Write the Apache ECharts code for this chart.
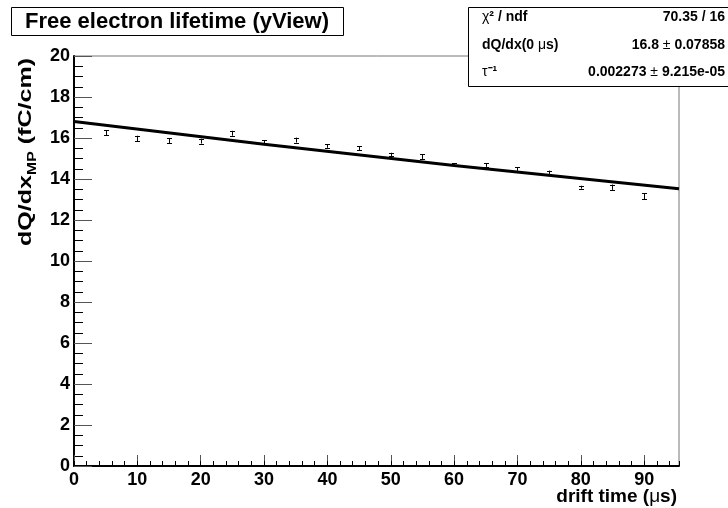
<!DOCTYPE html>
<html>
<head>
<meta charset="utf-8">
<script src="https://cdn.jsdelivr.net/npm/echarts@6/dist/echarts.min.js"></script>
<style>html,body{margin:0;padding:0;background:#fff;}#c{width:728px;height:508px;}</style>
</head>
<body>
<div id="c"></div>
<script>
// ---- data ----
const driftTimes = [5, 10, 15, 20, 25, 30, 35, 40, 45, 50, 55, 60, 65, 70, 75, 80, 85, 90];
const dqdxValues = [16.26, 15.98, 15.87, 15.85, 16.23, 15.82, 15.90, 15.61, 15.50, 15.20, 15.09, 14.72, 14.68, 14.49, 14.33, 13.60, 13.60, 13.16];
const dqdxErrors = [0.12, 0.13, 0.13, 0.12, 0.12, 0.07, 0.12, 0.09, 0.10, 0.08, 0.11, 0.06, 0.09, 0.09, 0.08, 0.07, 0.13, 0.15];
const fitTimes = [0, 30, 60, 95.5];
const fitValues = [16.80, 15.69, 14.66, 13.53];
const xTicks = [0, 10, 20, 30, 40, 50, 60, 70, 80, 90];
const yTicks = [0, 2, 4, 6, 8, 10, 12, 14, 16, 18, 20];
const titleText = 'Free electron lifetime (yView)';
const statRows = [
  ['{n|χ}{b|² / ndf}', '{b|70.35 / 16}'],
  ['{b|dQ/dx(0 }{n|μ}{b|s)}', '{b|16.8 }{n|±}{b| 0.07858}'],
  ['{n|τ}{b|⁻¹}', '{b|0.002273 }{n|±}{b| 9.215e-05}']
];

const AX_FONT = 'Liberation Sans';
const ST_FONT = 'Liberation Sans';
const mctx = document.createElement('canvas').getContext('2d');
function tw(text, size, weight, family) {
  mctx.font = (weight || 'bold') + ' ' + size + 'px "' + family + '"';
  return mctx.measureText(text).width;
}

const chart = echarts.init(document.getElementById('c'), null, {renderer: 'canvas'});

const fitData = fitTimes.map((t, i) => [t, fitValues[i]]);
const errData = driftTimes.map((t, i) => [t, dqdxValues[i], dqdxErrors[i]]);

// y-axis title pieces
const yt1 = 'dQ/dx', yt2 = 'MP', yt3 = ' (fC/cm)';
const yfs = 19, ysfs = 12;
const w1 = tw(yt1, yfs, 'bold', AX_FONT), w2 = tw(yt2, ysfs, 'bold', AX_FONT), w3 = tw(yt3, yfs, 'bold', AX_FONT);
const yTitleLen = w1 + w2 + w3;
const yTop = 58, yBottom = 246;
const yScale = (yBottom - yTop) / yTitleLen;

// x-axis title pieces
const xfs = 19;
const xa = 'drift time (', xb = 'μ', xc = 's)';
const xwa = tw(xa, xfs, 'bold', AX_FONT), xwb = tw(xb, xfs, 'normal', AX_FONT), xwc = tw(xc, xfs, 'bold', AX_FONT);
const xRight = 677, xY = 497;
const xStart = xRight - (xwa + xwb + xwc);

const richStat = {
  b: {fontFamily: ST_FONT, fontWeight: 'bold', fontSize: 14, fill: '#000', color: '#000'},
  n: {fontFamily: ST_FONT, fontWeight: 'normal', fontSize: 14, fill: '#000', color: '#000'}
};
const statY = [17, 45, 72];
const statGraphics = [];
statRows.forEach((r, i) => {
  statGraphics.push({type: 'text', x: 482, y: statY[i], z: 11,
    style: {text: r[0], rich: richStat, align: 'left', verticalAlign: 'middle', fill: '#000'}});
  statGraphics.push({type: 'text', x: 725, y: statY[i], z: 11,
    style: {text: r[1], rich: richStat, align: 'right', verticalAlign: 'middle', fill: '#000'}});
});

const option = {
  animation: false,
  backgroundColor: '#fff',
  grid: {left: 74, right: 49, top: 56, bottom: 42, show: true, borderColor: '#777', borderWidth: 1, backgroundColor: 'transparent'},
  xAxis: [{
    type: 'value', min: 0, max: 95.5, interval: 10, position: 'bottom',
    axisLine: {show: true, onZero: false, lineStyle: {color: '#000', width: 2}},
    axisTick: {show: true, inside: true, length: 11, lineStyle: {color: '#555', width: 1}},
    axisLabel: {show: true, margin: 5, fontFamily: AX_FONT, fontWeight: 'bold', fontSize: 18, color: '#000',
      showMaxLabel: false, formatter: v => (xTicks.indexOf(v) >= 0 ? String(v) : '')},
    splitLine: {show: false}
  }, {
    type: 'value', min: 0, max: 95.5, interval: 2, position: 'bottom',
    axisLine: {show: false, onZero: false},
    axisTick: {show: true, inside: true, length: 5, lineStyle: {color: '#000', width: 1}},
    axisLabel: {show: false},
    splitLine: {show: false}
  }],
  yAxis: {
    type: 'value', min: 0, max: 20, interval: 2,
    axisLine: {show: true, onZero: false, lineStyle: {color: '#000', width: 2}},
    axisTick: {show: true, inside: true, length: 18, lineStyle: {color: '#555', width: 1}},
    minorTick: {show: true, splitNumber: 4, length: 9, lineStyle: {color: '#000', width: 1}},
    axisLabel: {show: true, margin: 4, fontFamily: AX_FONT, fontWeight: 'bold', fontSize: 18, color: '#000',
      formatter: v => (yTicks.indexOf(v) >= 0 ? String(v) : '')},
    splitLine: {show: false}, minorSplitLine: {show: false}
  },
  series: [{
    type: 'line', xAxisIndex: 0, data: fitData, showSymbol: false, symbol: 'none',
    lineStyle: {color: '#000', width: 3}, z: 3, silent: true
  }, {
    type: 'custom', xAxisIndex: 0, data: errData, z: 4, silent: true,
    renderItem: function (params, api) {
      const x = api.value(0), y = api.value(1), e = api.value(2);
      const lo = api.coord([x, y - e]), hi = api.coord([x, y + e]);
      const cx = Math.round(lo[0]) + 0.5, hw = 2.5;
      const st = {stroke: '#000', lineWidth: 1};
      return {type: 'group', children: [
        {type: 'line', shape: {x1: cx, y1: lo[1], x2: cx, y2: hi[1]}, style: st},
        {type: 'line', shape: {x1: cx - hw, y1: Math.round(lo[1]) + 0.5, x2: cx + hw, y2: Math.round(lo[1]) + 0.5}, style: st},
        {type: 'line', shape: {x1: cx - hw, y1: Math.round(hi[1]) + 0.5, x2: cx + hw, y2: Math.round(hi[1]) + 0.5}, style: st}
      ]};
    }
  }],
  graphic: [
    {type: 'rect', shape: {x: 11.5, y: 7.5, width: 332, height: 28}, style: {fill: '#fff', stroke: '#000', lineWidth: 1}, z: 10},
    {type: 'text', x: 177, y: 21.5, z: 11, style: {text: titleText, fontFamily: ST_FONT, fontWeight: 'bold', fontSize: 22, fill: '#000', align: 'center', verticalAlign: 'middle'}},
    {type: 'rect', shape: {x: 468.5, y: 7.5, width: 262, height: 79}, style: {fill: '#fff', stroke: '#000', lineWidth: 1}, z: 10}
  ].concat(statGraphics).concat([
    {type: 'group', x: 26, y: yBottom, rotation: Math.PI / 2, scaleX: yScale, z: 11, children: [
      {type: 'text', x: 0, y: 0, style: {text: yt1, fontFamily: AX_FONT, fontWeight: 'bold', fontSize: yfs, fill: '#000', align: 'left', verticalAlign: 'middle'}},
      {type: 'text', x: w1, y: 7, style: {text: yt2, fontFamily: AX_FONT, fontWeight: 'bold', fontSize: ysfs, fill: '#000', align: 'left', verticalAlign: 'middle'}},
      {type: 'text', x: w1 + w2, y: 0, style: {text: yt3, fontFamily: AX_FONT, fontWeight: 'bold', fontSize: yfs, fill: '#000', align: 'left', verticalAlign: 'middle'}}
    ]},
    {type: 'text', x: xStart, y: xY, z: 11, style: {text: xa, fontFamily: AX_FONT, fontWeight: 'bold', fontSize: xfs, fill: '#000', align: 'left', verticalAlign: 'middle'}},
    {type: 'text', x: xStart + xwa, y: xY, z: 11, style: {text: xb, fontFamily: AX_FONT, fontWeight: 'normal', fontSize: xfs, fill: '#000', align: 'left', verticalAlign: 'middle'}},
    {type: 'text', x: xStart + xwa + xwb, y: xY, z: 11, style: {text: xc, fontFamily: AX_FONT, fontWeight: 'bold', fontSize: xfs, fill: '#000', align: 'left', verticalAlign: 'middle'}}
  ])
};
chart.setOption(option);
</script>
</body>
</html>
